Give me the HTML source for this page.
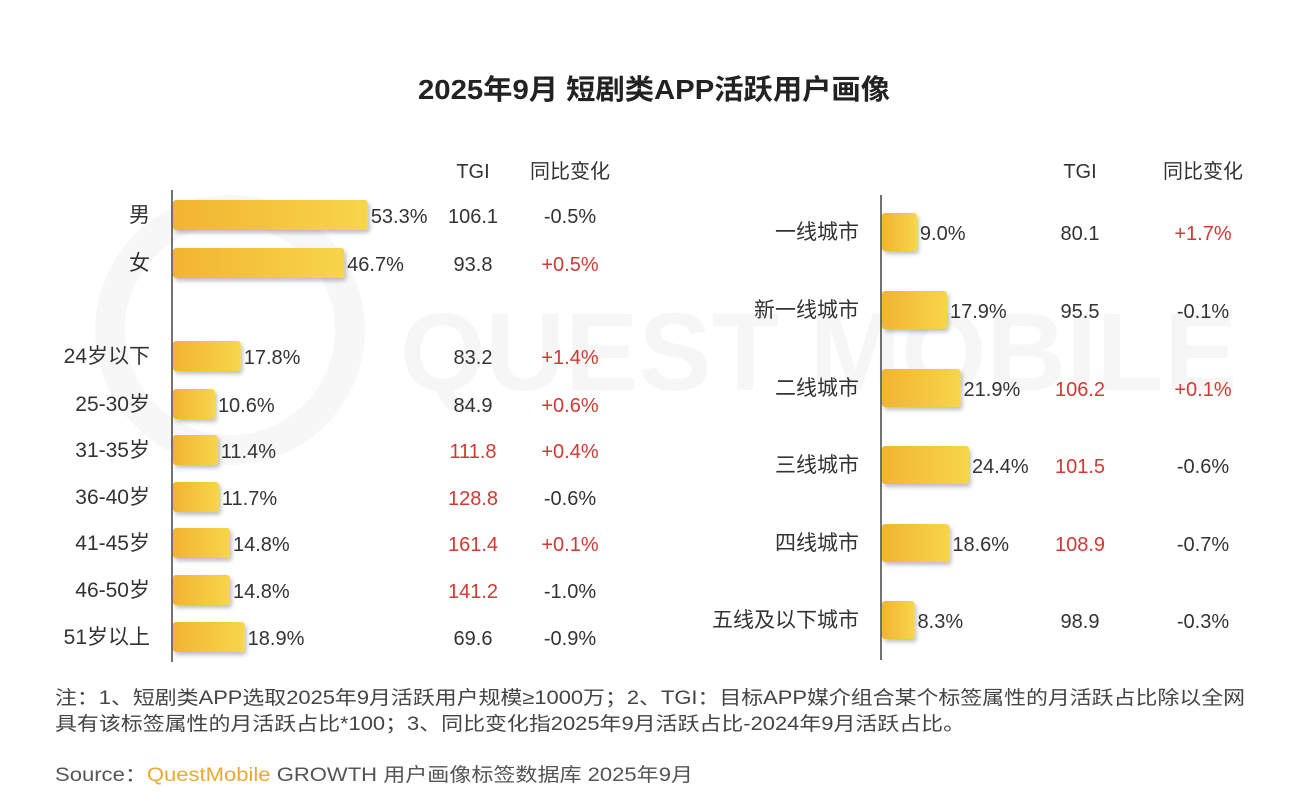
<!DOCTYPE html>
<html><head><meta charset="utf-8"><style>
body{margin:0;background:#fff;}
svg{display:block;font-family:"Liberation Sans","Noto Sans CJK SC",sans-serif;}
</style></head><body>
<svg width="1315" height="796" viewBox="0 0 1315 796">
<defs><linearGradient id="g" x1="0" x2="1"><stop offset="0" stop-color="#f2b431"/><stop offset="1" stop-color="#f7d54a"/></linearGradient>
<filter id="sh" x="-10%" y="-20%" width="130%" height="160%"><feDropShadow dx="2" dy="3" stdDeviation="2" flood-color="#000" flood-opacity="0.25"/></filter></defs>
<g opacity="0.03" fill="none" stroke="#000" stroke-width="30">
<circle cx="230" cy="330" r="120"/><text x="400" y="390" font-size="110" fill="#000" stroke="none" font-weight="bold">QUEST MOBILE</text></g>
<text x="418" y="99" textLength="472" lengthAdjust="spacingAndGlyphs" font-size="28" font-weight="bold" fill="#222">2025年9月 短剧类APP活跃用户画像</text>
<g id="left"></g>
<g id="right"></g>
<text x="55" y="704" font-size="19" textLength="1190" lengthAdjust="spacingAndGlyphs" fill="#444">注：1、短剧类APP选取2025年9月活跃用户规模≥1000万；2、TGI：目标APP媒介组合某个标签属性的月活跃占比除以全网</text>
<text x="55" y="730" font-size="19" textLength="910" lengthAdjust="spacingAndGlyphs" fill="#444">具有该标签属性的月活跃占比*100；3、同比变化指2025年9月活跃占比-2024年9月活跃占比。</text>
<text x="55" y="781" font-size="19" textLength="638" lengthAdjust="spacingAndGlyphs" fill="#555">Source：<tspan fill="#eda830">QuestMobile</tspan> GROWTH 用户画像标签数据库 2025年9月</text>
</svg>
<script>
const leftCats=["男","女","24岁以下","25-30岁","31-35岁","36-40岁","41-45岁","46-50岁","51岁以上"];
const leftVals=[53.3,46.7,17.8,10.6,11.4,11.7,14.8,14.8,18.9];
const leftTgi=["106.1","93.8","83.2","84.9","111.8","128.8","161.4","141.2","69.6"];
const leftChg=["-0.5%","+0.5%","+1.4%","+0.6%","+0.4%","-0.6%","+0.1%","-1.0%","-0.9%"];
const leftTgiRed=[0,0,0,0,1,1,1,1,0];
const rightCats=["一线城市","新一线城市","二线城市","三线城市","四线城市","五线及以下城市"];
const rightVals=[9.0,17.9,21.9,24.4,18.6,8.3];
const rightTgi=["80.1","95.5","106.2","101.5","108.9","98.9"];
const rightChg=["+1.7%","-0.1%","+0.1%","-0.6%","-0.7%","-0.3%"];
const rightTgiRed=[0,0,1,1,1,0];
const NS="http://www.w3.org/2000/svg";
function mk(p,tag,a,txt){const e=document.createElementNS(NS,tag);for(const k in a)e.setAttribute(k,a[k]);if(txt!==undefined)e.textContent=txt;p.appendChild(e);return e;}
function panel(gid,cats,vals,tgi,chg,tgiRed,o){
 const g=document.getElementById(gid);
 let ax=mk(g,'line',{x1:o.x0,x2:o.x0,y1:o.ya,y2:o.yb,stroke:'#444','stroke-width':1.5});
 
 
 let h1=mk(g,'text',{x:o.tx,y:o.hy,'text-anchor':'middle','font-size':20,fill:'#333'},'TGI');
 
 
 let h2=mk(g,'text',{x:o.cx,y:o.hy,'text-anchor':'middle','font-size':20,fill:'#333'},'同比变化');
 
 
 cats.forEach((c,i)=>{
  const y=o.yc[i],w=o.a+vals[i]*o.b;
  let l=mk(g,'text',{x:o.x0-22,y:y+7,'text-anchor':'end','font-size':21,fill:'#333'},c);
  
  
  let r=mk(g,'rect',{x:o.x0+1,y:y-o.bh/2,width:w,height:o.bh,rx:3,fill:'url(#g)',filter:'url(#sh)'});
  
  
  let v=mk(g,'text',{x:o.x0+w+4,y:y+8,'font-size':20,fill:'#333'},vals[i].toFixed(1)+'%');
  
  
  let t=mk(g,'text',{x:o.tx,y:y+8,'text-anchor':'middle','font-size':20,fill:tgiRed[i]?'#d03a32':'#333'},tgi[i]);
  
  
  let ch=mk(g,'text',{x:o.cx,y:y+8,'text-anchor':'middle','font-size':20,fill:chg[i][0]=='+'?'#d03a32':'#333'},chg[i]);
  
  
 });
}
panel('left',leftCats,leftVals,leftTgi,leftChg,leftTgiRed,{x0:172,ya:190,yb:662,a:4,b:3.58,bh:30,tx:473,cx:570,hy:178,yc:[215,263,356,404,450,497,543,590,637]});
panel('right',rightCats,rightVals,rightTgi,rightChg,rightTgiRed,{x0:881,ya:195,yb:660,a:4.5,b:3.38,bh:38,tx:1080,cx:1203,hy:178,yc:[232,310,388,465,543,620]});
</script>
</body></html>
